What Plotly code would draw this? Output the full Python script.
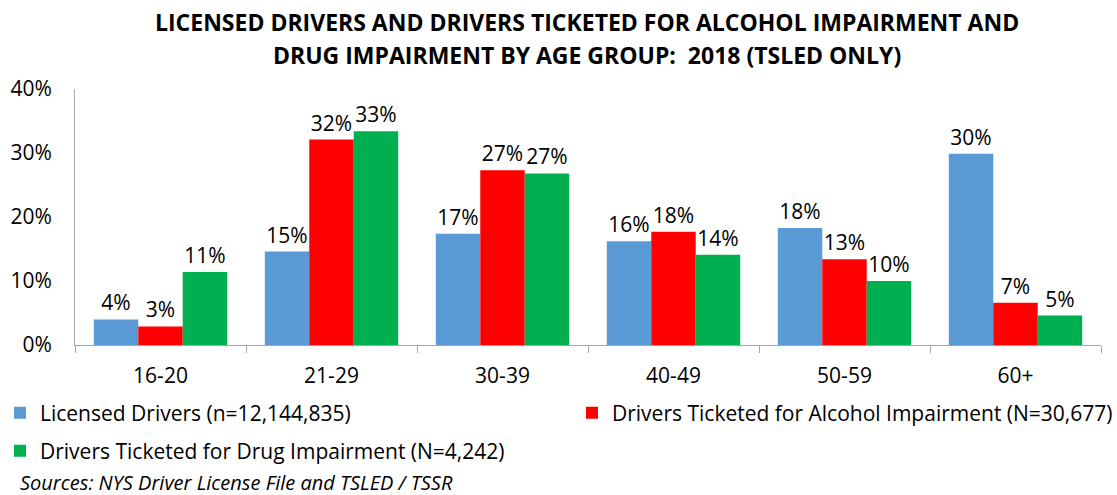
import plotly.graph_objects as go

age_groups = ["16-20", "21-29", "30-39", "40-49", "50-59", "60+"]
licensed = [4.0, 14.6, 17.4, 16.2, 18.3, 29.9]
alcohol = [2.9, 32.1, 27.3, 17.7, 13.4, 6.6]
drug = [11.4, 33.4, 26.8, 14.1, 10.0, 4.6]

series_names = [
    "Licensed Drivers (n=12,144,835)",
    "Drivers Ticketed for Alcohol Impairment (N=30,677)",
    "Drivers Ticketed for Drug Impairment (N=4,242)",
]
colors = ["#5B9BD5", "#FF0000", "#00B050"]
legend_ids = ["legend", "legend3", "legend2"]
y_ticks = [0, 10, 20, 30, 40]
y_labels = ["0%", "10%", "20%", "30%", "40%"]

FONT = "'Open Sans', sans-serif"

# plot area in pixels: x 75..1101, y 89..345
def py(pix):
    return (345 - pix) / 256.0

fig = go.Figure()
for name, vals, col, lg in zip(series_names, [licensed, alcohol, drug], colors, legend_ids):
    fig.add_trace(go.Bar(
        x=age_groups, y=vals, name=name, legend=lg,
        marker=dict(color=col, line=dict(width=0)),
        texttemplate="%{y:.0f}%", textposition="outside",
        textfont=dict(size=21, color="#000000", family=FONT),
        cliponaxis=False,
    ))

leg_common = dict(
    orientation="h", xref="container", yref="container",
    xanchor="left", yanchor="middle",
    font=dict(size=21, family=FONT, color="#000000"),
    bgcolor="rgba(0,0,0,0)", itemwidth=30,
)
fig.update_layout(
    width=1117, height=495,
    margin=dict(l=75, r=16, t=89, b=150, autoexpand=False),
    paper_bgcolor="white", plot_bgcolor="white",
    barmode="group", bargap=0.22, bargroupgap=0,
    font=dict(family=FONT, size=21, color="#000000"),
    legend=dict(x=0.0, y=1 - 413 / 495, **leg_common),
    legend3=dict(x=572 / 1117, y=1 - 413 / 495, **leg_common),
    legend2=dict(x=0.0, y=1 - 451 / 495, **leg_common),
    showlegend=True,
)
fig.update_xaxes(
    showline=True, linecolor="#A6A6A6", linewidth=1,
    ticks="outside", tickson="boundaries", ticklen=7, tickcolor="#A6A6A6",
    tickfont=dict(size=21), ticklabelstandoff=12,
)
fig.update_yaxes(
    range=[0, 40], tickvals=y_ticks, ticktext=y_labels,
    showline=True, linecolor="#A6A6A6", linewidth=1,
    showgrid=False, zeroline=False, tickfont=dict(size=21),
    ticklabelstandoff=18,
)

fig.add_annotation(
    text="<b>LICENSED DRIVERS AND DRIVERS TICKETED FOR ALCOHOL IMPAIRMENT AND</b>",
    xref="paper", yref="paper", x=0.499, xanchor="center",
    y=py(22), yanchor="middle", showarrow=False,
    font=dict(size=23, family=FONT),
)
fig.add_annotation(
    text="<b>DRUG IMPAIRMENT BY AGE GROUP:  2018 (TSLED ONLY)</b>",
    xref="paper", yref="paper", x=0.499, xanchor="center",
    y=py(55), yanchor="middle", showarrow=False,
    font=dict(size=23, family=FONT),
)
fig.add_annotation(
    text="<i>Sources: NYS Driver License File and TSLED / TSSR</i>",
    xref="paper", yref="paper", x=-(75 - 18) / 1026, xanchor="left",
    y=py(482), yanchor="middle", showarrow=False,
    font=dict(size=20, family=FONT),
)

fig.write_html("out.html", config={"displayModeBar": False},
               post_script="document.body.style.margin='0';")
